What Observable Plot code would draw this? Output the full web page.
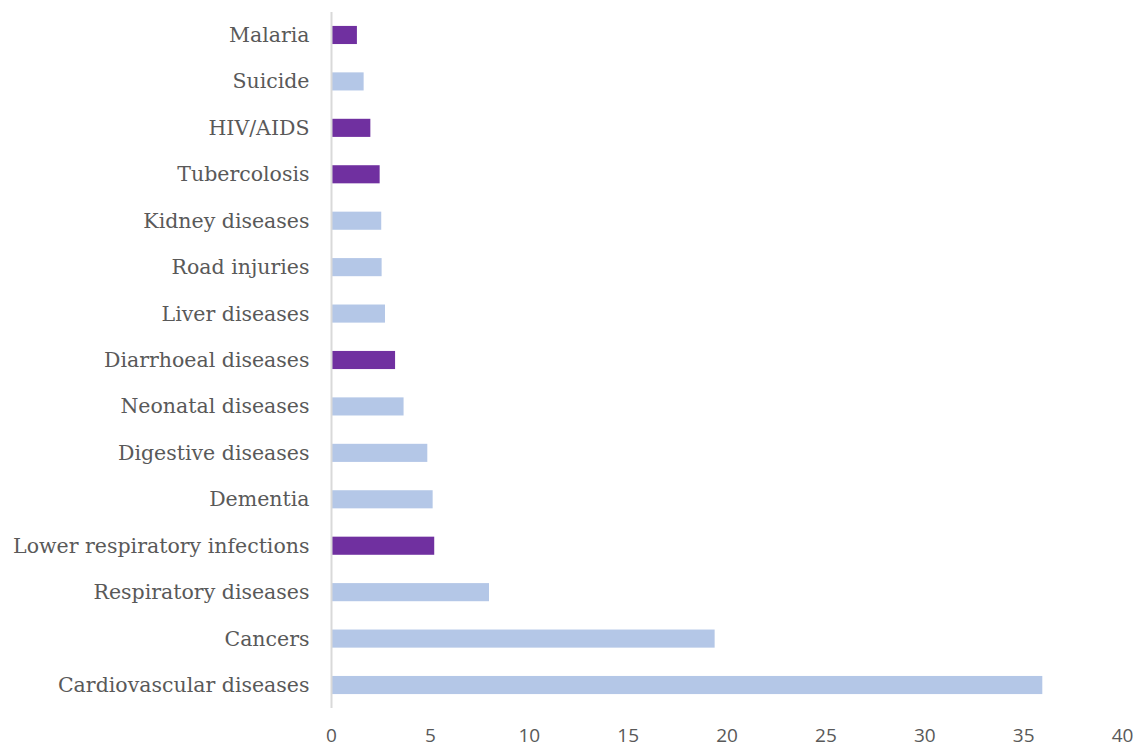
<!DOCTYPE html>
<html>
<head>
<meta charset="utf-8">
<script src="https://cdn.jsdelivr.net/npm/d3@7"></script>
<script src="https://cdn.jsdelivr.net/npm/@observablehq/plot@0.6"></script>
<style>
  html, body { margin: 0; padding: 0; background: #ffffff; }
  #chart svg { display: block; }
</style>
</head>
<body>
<div id="chart"></div>
<script>
const causes = [
  "Malaria", "Suicide", "HIV/AIDS", "Tubercolosis", "Kidney diseases",
  "Road injuries", "Liver diseases", "Diarrhoeal diseases", "Neonatal diseases",
  "Digestive diseases", "Dementia", "Lower respiratory infections",
  "Respiratory diseases", "Cancers", "Cardiovascular diseases"
];
const values = [1.31, 1.65, 1.99, 2.46, 2.54, 2.56, 2.73, 3.24, 3.67, 4.87, 5.14, 5.22, 7.99, 19.4, 35.97];
const infectious = [true, false, true, true, false, false, false, true, false, false, false, true, false, false, false];
const xTicks = [0, 5, 10, 15, 20, 25, 30, 35, 40];

const data = causes.map((c, i) => ({cause: c, value: values[i], group: infectious[i] ? "infectious" : "other"}));

const chart = Plot.plot({
  width: 1137,
  height: 749,
  marginLeft: 331,
  marginRight: 15,
  marginTop: 12,
  marginBottom: 41,
  x: {domain: [0, 40], ticks: xTicks, label: null},
  y: {domain: causes, label: null, paddingInner: 0.61, paddingOuter: 0.3, round: false},
  color: {domain: ["infectious", "other"], range: ["#7030a0", "#b4c7e7"]},
  marks: [
    Plot.barX(data, {x: "value", y: "cause", fill: "group"}),
    Plot.ruleX([0], {stroke: "#d9d9d9", strokeWidth: 2}),
    Plot.axisY({tickSize: 0, tickPadding: 22, fontSize: 20.5, fontFamily: "DejaVu Serif", color: "#595959", label: null}),
    Plot.axisX({ticks: xTicks, tickSize: 0, tickPadding: 20, fontSize: 19, fontFamily: "Open Sans", color: "#595959", label: null})
  ]
});
document.getElementById("chart").appendChild(chart);
</script>
</body>
</html>
